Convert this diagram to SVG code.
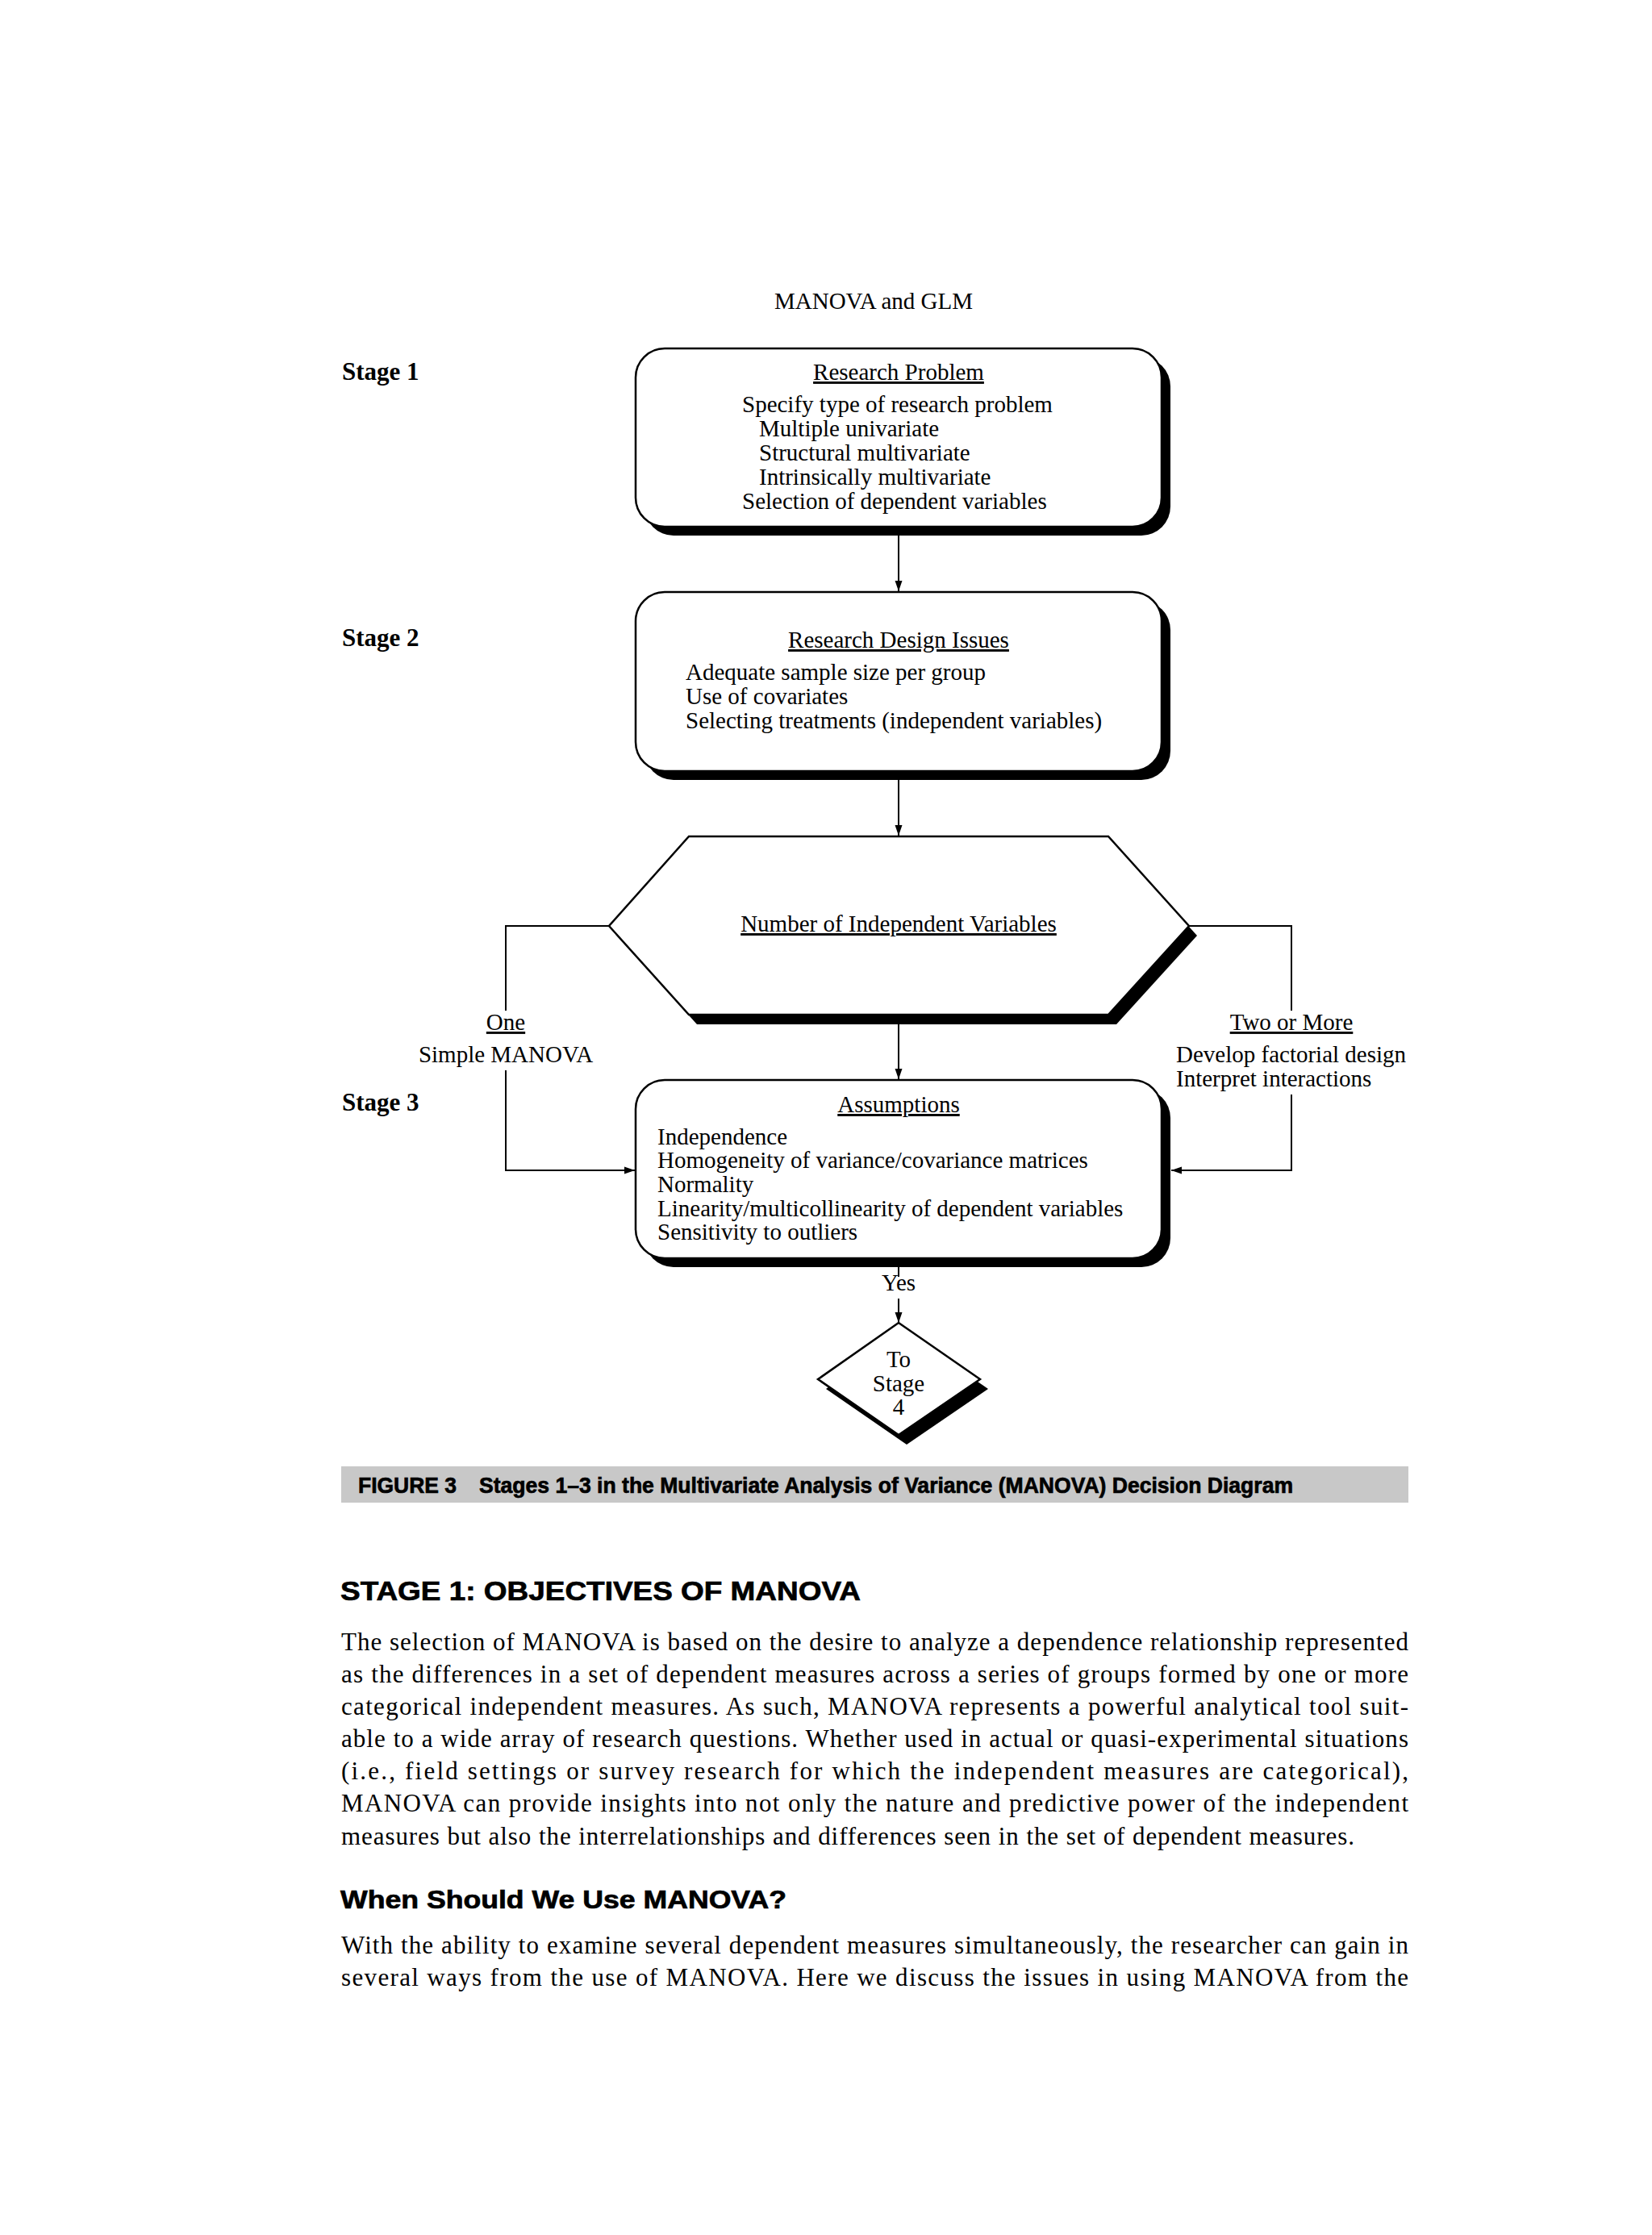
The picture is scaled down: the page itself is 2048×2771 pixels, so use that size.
<svg xmlns="http://www.w3.org/2000/svg" width="2048" height="2771" viewBox="0 0 2048 2771">
<defs>
<style>
.t{font-family:"Liberation Serif","Times New Roman",serif;font-size:29px;fill:#000}
.c{text-anchor:middle}
.u{text-decoration:underline}
.st{font-family:"Liberation Serif","Times New Roman",serif;font-size:31px;font-weight:bold;fill:#000}
.h{font-family:"Liberation Sans",Arial,sans-serif;font-weight:bold;fill:#000;stroke:#000;stroke-width:0.7}
.b{font-family:"Liberation Serif","Times New Roman",serif;font-size:31px;fill:#000}
.box{fill:#fff;stroke:#000;stroke-width:2.5}
.sh{fill:#000}
.ln{fill:none;stroke:#000;stroke-width:2}
</style>
<marker id="ah" markerUnits="userSpaceOnUse" markerWidth="14" markerHeight="10" refX="13" refY="5" orient="auto">
<path d="M0,0.5 L13,5 L0,9.5 z" fill="#000"/>
</marker>
</defs>
<rect width="2048" height="2771" fill="#fff"/>

<text class="t c" x="1083" y="383">MANOVA and GLM</text>

<g id="stage-labels">
<text class="st" x="424" y="471">Stage 1</text>
<text class="st" x="424" y="801">Stage 2</text>
<text class="st" x="424" y="1377">Stage 3</text>
</g>

<g id="connectors">
<path class="ln" d="M1114,664 V733" marker-end="url(#ah)"/>
<path class="ln" d="M1114,967 V1036" marker-end="url(#ah)"/>
<path class="ln" d="M755,1148 H627 V1253"/>
<path class="ln" d="M627,1327 V1451 H787" marker-end="url(#ah)"/>
<path class="ln" d="M1474,1148 H1601 V1253"/>
<path class="ln" d="M1601,1357 V1451 H1452" marker-end="url(#ah)"/>
<path class="ln" d="M1114,1270 V1338" marker-end="url(#ah)"/>
<path class="ln" d="M1114,1571 V1583"/>
<path class="ln" d="M1114,1610 V1640" marker-end="url(#ah)"/>
<text class="t c" x="627" y="1277"><tspan class="u">One</tspan></text>
<text class="t c" x="627" y="1317">Simple MANOVA</text>
<text class="t c" x="1601" y="1277"><tspan class="u">Two or More</tspan></text>
<text class="t" x="1458" y="1317">Develop factorial design</text>
<text class="t" x="1458" y="1347">Interpret interactions</text>
<text class="t c" x="1114" y="1600">Yes</text>
</g>

<g id="research-problem">
<rect class="sh" x="799" y="443" width="652" height="221" rx="36"/>
<rect class="box" x="788" y="432" width="652" height="221" rx="36"/>
<text class="t c u" x="1114" y="471">Research Problem</text>
<text class="t" x="920" y="511">Specify type of research problem</text>
<text class="t" x="941" y="541">Multiple univariate</text>
<text class="t" x="941" y="571">Structural multivariate</text>
<text class="t" x="941" y="601">Intrinsically multivariate</text>
<text class="t" x="920" y="631">Selection of dependent variables</text>
</g>

<g id="research-design">
<rect class="sh" x="799" y="745" width="652" height="222" rx="36"/>
<rect class="box" x="788" y="734" width="652" height="222" rx="36"/>
<text class="t c u" x="1114" y="803">Research Design Issues</text>
<text class="t" x="850" y="843">Adequate sample size per group</text>
<text class="t" x="850" y="873">Use of covariates</text>
<text class="t" x="850" y="903">Selecting treatments (independent variables)</text>
</g>

<g id="number-iv">
<polygon class="sh" points="864,1049 1384,1049 1484,1160 1384,1270 864,1270 765,1160"/>
<polygon class="box" points="854,1037 1374,1037 1474,1148 1374,1258 854,1258 755,1148"/>
<text class="t c u" x="1114" y="1155">Number of Independent Variables</text>
</g>

<g id="assumptions">
<rect class="sh" x="799" y="1350" width="652" height="221" rx="36"/>
<rect class="box" x="788" y="1339" width="652" height="221" rx="36"/>
<text class="t c u" x="1114" y="1379">Assumptions</text>
<text class="t" x="815" y="1419">Independence</text>
<text class="t" x="815" y="1448">Homogeneity of variance/covariance matrices</text>
<text class="t" x="815" y="1478">Normality</text>
<text class="t" x="815" y="1508">Linearity/multicollinearity of dependent variables</text>
<text class="t" x="815" y="1537">Sensitivity to outliers</text>
</g>

<g id="to-stage-4">
<polygon class="sh" points="1124,1652 1225,1722 1124,1791 1024,1722"/>
<polygon class="box" points="1114,1640 1215,1710 1114,1779 1014,1710"/>
<text class="t c" x="1114" y="1695">To</text>
<text class="t c" x="1114" y="1725">Stage</text>
<text class="t c" x="1114" y="1754">4</text>
</g>

<g id="caption">
<rect x="423" y="1818" width="1323" height="45" fill="#c8c8c8"/>
<text class="h" x="444" y="1851" font-size="28" textLength="122" lengthAdjust="spacingAndGlyphs">FIGURE 3</text>
<text class="h" x="594" y="1851" font-size="28" textLength="1009" lengthAdjust="spacingAndGlyphs">Stages 1–3 in the Multivariate Analysis of Variance (MANOVA) Decision Diagram</text>
</g>

<g id="body">
<text class="h" x="422" y="1984" font-size="33" textLength="645" lengthAdjust="spacingAndGlyphs">STAGE 1: OBJECTIVES OF MANOVA</text>
<text class="b" x="423" y="2046" textLength="1323" lengthAdjust="spacing">The selection of MANOVA is based on the desire to analyze a dependence relationship represented</text>
<text class="b" x="423" y="2086" textLength="1323" lengthAdjust="spacing">as the differences in a set of dependent measures across a series of groups formed by one or more</text>
<text class="b" x="423" y="2126" textLength="1323" lengthAdjust="spacing">categorical independent measures. As such, MANOVA represents a powerful analytical tool suit-</text>
<text class="b" x="423" y="2166" textLength="1323" lengthAdjust="spacing">able to a wide array of research questions. Whether used in actual or quasi-experimental situations</text>
<text class="b" x="423" y="2206" textLength="1323" lengthAdjust="spacing">(i.e., field settings or survey research for which the independent measures are categorical),</text>
<text class="b" x="423" y="2246" textLength="1323" lengthAdjust="spacing">MANOVA can provide insights into not only the nature and predictive power of the independent</text>
<text class="b" x="423" y="2287" textLength="1256" lengthAdjust="spacing">measures but also the interrelationships and differences seen in the set of dependent measures.</text>
<text class="h" x="422" y="2366" font-size="31" textLength="553" lengthAdjust="spacingAndGlyphs">When Should We Use MANOVA?</text>
<text class="b" x="423" y="2422" textLength="1323" lengthAdjust="spacing">With the ability to examine several dependent measures simultaneously, the researcher can gain in</text>
<text class="b" x="423" y="2462" textLength="1323" lengthAdjust="spacing">several ways from the use of MANOVA. Here we discuss the issues in using MANOVA from the</text>
</g>
</svg>
